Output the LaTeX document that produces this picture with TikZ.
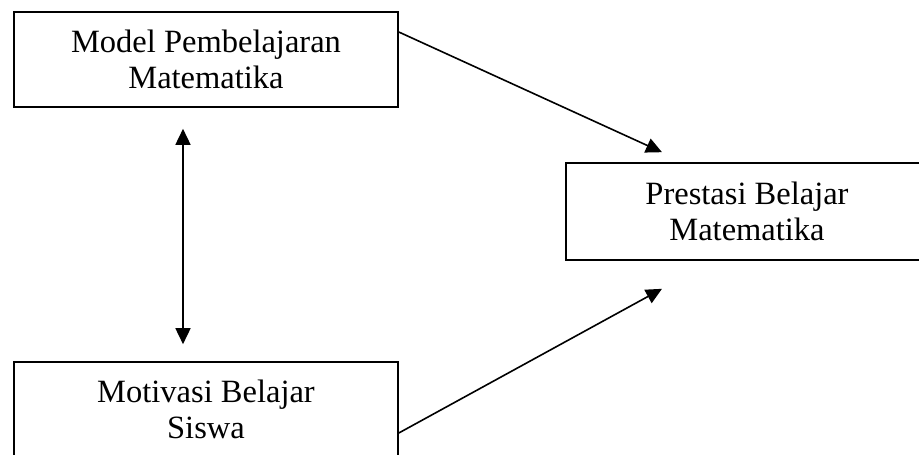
\documentclass[tikz,border=0pt]{standalone}
\usepackage{fontspec}
\setmainfont{Liberation Serif}
\usetikzlibrary{arrows.meta}
\begin{document}
\begin{tikzpicture}[x=1pt,y=-1pt]
  % Styles
  \tikzstyle{variable box}=[draw,line width=1.6pt,align=center,inner sep=0pt,
    font=\fontsize{32.5}{36}\selectfont]
  \tikzstyle{relation}=[line width=1.6pt,-{Triangle[length=16pt,width=15pt]}]
  \tikzstyle{correlation}=[line width=1.6pt,
    {Triangle[length=16pt,width=15pt]}-{Triangle[length=16pt,width=15pt]}]

  % Frame
  \useasboundingbox (0,0) rectangle (919,455);
  \clip (0,0) rectangle (919,455);

  % The graphic
  \node[variable box,minimum width=384pt,minimum height=95pt] (model) at (206,59.5)
    {Model Pembelajaran\\Matematika};
  \node[variable box,minimum width=362pt,minimum height=97pt] (prestasi) at (747,211.5)
    {Prestasi Belajar\\Matematika};
  \node[variable box,minimum width=384pt,minimum height=95pt] (motivasi) at (206,409.5)
    {Motivasi Belajar\\Siswa};

  \draw[style=relation] ([yshift=27.5pt]model.east) -- ([xshift=-85pt,yshift=10pt]prestasi.north);
  \draw[style=relation] ([yshift=-23.5pt]motivasi.east) -- ([xshift=-85pt,yshift=-28pt]prestasi.south);
  \draw[style=correlation]
    ([xshift=-23pt,yshift=-21pt]model.south) -- ([xshift=-23pt,yshift=17pt]motivasi.north);
\end{tikzpicture}
\end{document}
